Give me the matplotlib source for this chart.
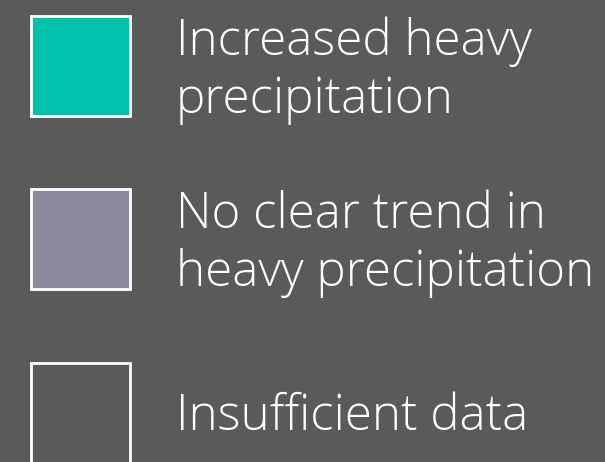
import matplotlib
matplotlib.use("Agg")
import matplotlib.pyplot as plt
from matplotlib.patches import Rectangle

labels = ["Increased heavy\nprecipitation", "No clear trend in\nheavy precipitation", "Insufficient data"]
colors = ["#00c1a9", "#8e8ba0", "#5a5a5a"]
bg = "#5a5a5a"

fig = plt.figure(figsize=(6.05, 4.62), dpi=100)
fig.patch.set_facecolor(bg)
ax = fig.add_axes([0, 0, 1, 1])
ax.set_facecolor(bg)
ax.set_xlim(0, 605)
ax.set_ylim(462, 0)
ax.axis("off")

tops = [16, 189, 363]
for lab, col, top in zip(labels, colors, tops):
    ax.add_patch(Rectangle((30.5, top), 99, 100, facecolor=col, edgecolor="white", linewidth=2))
    lines = lab.split("\n")
    if len(lines) == 2:
        bases = [top + 39, top + 97]
    else:
        bases = [top + 67]
    for ln, b in zip(lines, bases):
        ax.text(176, b, ln, color="white", fontsize=35.5, family="Open Sans", fontweight="light",
                va="baseline", ha="left")

fig.savefig("out.png", dpi=100, facecolor=bg)
